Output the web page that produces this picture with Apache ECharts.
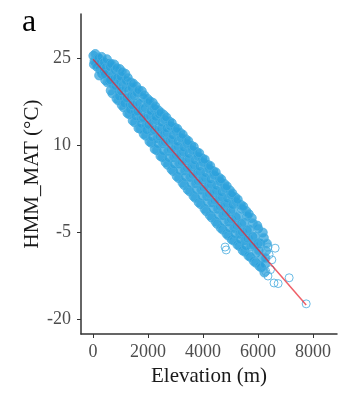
<!DOCTYPE html>
<html>
<head>
<meta charset="utf-8">
<script src="https://cdn.jsdelivr.net/npm/echarts@6/dist/echarts.min.js"></script>
<style>
  html, body { margin: 0; padding: 0; background: #fff; }
  #main { width: 355px; height: 395px; }
</style>
</head>
<body>
<div id="main"></div>
<script>
// elevation (m) and HMM_MAT (°C), column by column
var elevation = [
  10, 50, 80, 120, 160, 30, 140,
  200, 240, 290, 330, 370, 220, 310, 390,
  400, 440, 470, 520, 560, 430, 590, 500, 580,
  610, 640, 690, 730, 770, 620, 700, 790, 660,
  800, 850, 880, 930, 970, 820, 910, 990, 860, 950,
  1010, 1040, 1090, 1130, 1170, 1020, 1110, 1190, 1060, 1150,
  1200, 1250, 1280, 1330, 1370, 1220, 1310, 1390, 1260, 1350,
  1410, 1440, 1490, 1530, 1570, 1420, 1510, 1590, 1460, 1550,
  1600, 1650, 1680, 1730, 1770, 1620, 1710, 1790, 1660, 1750,
  1810, 1840, 1890, 1930, 1970, 1820, 1910, 1990, 1860, 1950,
  2000, 2050, 2080, 2130, 2170, 2020, 2110, 2190, 2060, 2150, 2100,
  2210, 2240, 2290, 2330, 2370, 2220, 2310, 2390, 2260, 2350, 2280,
  2400, 2450, 2480, 2530, 2570, 2420, 2510, 2590, 2460, 2550, 2500,
  2610, 2640, 2690, 2730, 2770, 2620, 2710, 2790, 2660, 2750, 2680,
  2800, 2850, 2880, 2930, 2970, 2820, 2910, 2990, 2860, 2950, 2900,
  3010, 3040, 3090, 3130, 3170, 3020, 3110, 3190, 3060, 3150, 3080,
  3200, 3250, 3280, 3330, 3370, 3220, 3310, 3390, 3260, 3350, 3300,
  3410, 3440, 3490, 3530, 3570, 3420, 3510, 3590, 3460, 3550, 3480,
  3600, 3650, 3680, 3730, 3770, 3620, 3710, 3790, 3660, 3750, 3700,
  3810, 3840, 3890, 3930, 3970, 3820, 3910, 3990, 3860, 3950, 3880,
  4000, 4050, 4080, 4130, 4170, 4020, 4110, 4190, 4060, 4150, 4090,
  4210, 4240, 4290, 4330, 4370, 4220, 4310, 4390, 4260, 4350, 4280,
  4400, 4450, 4480, 4530, 4570, 4420, 4510, 4590, 4460, 4550, 4490,
  4610, 4640, 4690, 4730, 4770, 4620, 4710, 4790, 4660, 4750, 4680,
  4800, 4850, 4880, 4930, 4970, 4820, 4910, 4990, 4860, 4950, 4890,
  5010, 5040, 5090, 5130, 5170, 5020, 5110, 5190, 5060, 5150, 5080,
  5200, 5250, 5280, 5330, 5370, 5220, 5310, 5390, 5260, 5350,
  5410, 5440, 5490, 5530, 5570, 5420, 5510, 5590, 5460, 5550,
  5600, 5650, 5680, 5730, 5770, 5620, 5710, 5790, 5660,
  5810, 5840, 5890, 5930, 5970, 5820, 5910, 5990,
  6000, 6050, 6080, 6130, 6170, 6020, 6110,
  6210, 6250, 6290, 6230, 6320, 6270
];
var hmmMat = [
  25.4, 24.5, 25.7, 24.0, 25.1, 23.9, 23.5,
  25.0, 23.1, 24.4, 22.3, 23.8, 22.0, 25.2, 22.7,
  24.3, 21.2, 23.4, 20.8, 22.5, 22.2, 24.0, 24.8, 21.0,
  23.5, 19.4, 22.0, 20.4, 23.9, 21.2, 18.9, 21.5, 24.0,
  22.9, 18.0, 21.6, 19.3, 23.1, 20.2, 17.7, 21.0, 23.3, 18.4,
  21.8, 16.9, 20.4, 18.1, 22.3, 19.3, 16.5, 19.9, 22.6, 17.2,
  21.1, 15.5, 19.4, 17.0, 20.8, 18.1, 15.3, 18.5, 21.6, 16.1,
  19.9, 14.2, 18.5, 15.8, 20.1, 16.9, 13.9, 17.3, 20.6, 15.0,
  19.0, 12.9, 17.1, 14.7, 19.3, 15.8, 12.8, 16.2, 19.5, 13.7,
  18.1, 11.9, 16.4, 13.4, 18.0, 14.7, 11.6, 15.1, 18.6, 12.6,
  17.2, 10.6, 15.0, 12.5, 17.3, 13.5, 10.4, 14.0, 17.6, 11.4, 15.9,
  16.3, 9.3, 14.3, 11.2, 16.0, 12.6, 9.1, 13.0, 16.7, 10.2, 14.9,
  15.3, 8.1, 12.8, 10.3, 15.2, 11.5, 7.9, 11.9, 15.6, 9.0, 13.9,
  14.3, 7.0, 12.1, 9.0, 14.1, 10.5, 6.6, 10.8, 14.8, 7.8, 12.9,
  13.3, 5.8, 10.9, 7.9, 13.0, 9.3, 5.5, 9.6, 13.8, 6.7, 11.7,
  12.3, 4.6, 9.7, 6.8, 12.1, 8.2, 4.3, 8.5, 12.8, 5.6, 10.6,
  11.2, 3.5, 8.8, 5.6, 11.0, 7.1, 3.1, 7.4, 11.8, 4.5, 9.6,
  10.2, 2.3, 7.6, 4.5, 9.9, 6.0, 2.0, 6.3, 10.7, 3.4, 8.5,
  9.1, 1.2, 6.5, 3.4, 8.8, 4.9, 0.9, 5.2, 9.7, 2.3, 7.4,
  8.0, 0.1, 5.4, 2.3, 7.7, 3.8, -0.2, 4.1, 8.6, 1.2, 6.3,
  7.0, -1.0, 4.3, 1.2, 6.6, 2.7, -1.4, 3.0, 7.5, 0.1, 5.2,
  5.9, -2.1, 3.2, 0.1, 5.5, 1.6, -2.5, 1.9, 6.4, -1.0, 4.1,
  4.8, -3.2, 2.1, -1.0, 4.4, 0.5, -3.6, 0.8, 5.3, -2.1, 3.0,
  3.7, -4.3, 1.0, -2.1, 3.3, -0.6, -4.6, -0.3, 4.1, -3.2, 1.9,
  2.5, -5.3, -0.1, -3.2, 2.2, -1.7, -5.6, -1.4, 2.9, -4.3, 0.8,
  1.4, -6.3, -1.2, -4.3, 1.0, -2.8, -6.5, -2.5, 1.7, -5.3, -0.3,
  0.2, -7.2, -2.3, -5.3, -0.3, -3.9, -7.4, -3.6, 0.6, -6.3,
  -1.0, -8.2, -3.4, -6.4, -1.4, -5.0, -8.4, -4.7, -0.6, -7.4,
  -2.3, -9.1, -4.6, -7.5, -2.6, -6.1, -9.3, -5.8, -1.9,
  -3.5, -10.0, -5.8, -8.6, -3.9, -7.2, -10.3, -6.9,
  -4.4, -10.9, -7.0, -9.5, -5.1, -8.2, -11.1,
  -6.0, -10.6, -8.3, -12.0, -7.0, -9.5
];
// sparse points away from the dense cloud
var sparseElev = [6360, 6620, 6360, 6580, 6730, 7130, 7750, 6450, 6500, 6400, 4840, 4800, 6280];
var sparseMat = [-7.6, -7.8, -12.6, -13.8, -13.9, -12.9, -17.4, -11.5, -9.8, -8.9, -8.1, -7.6, -11.8];
// fitted regression line end points
var fitElev = [0, 7750];
var fitTemp = [24.8, -17.6];
var xTicks = [0, 2000, 4000, 6000, 8000];
var yTicks = [-20, -5, 10, 25];

var points = elevation.map(function (e, i) { return [e, hmmMat[i]]; });
var sparse = sparseElev.map(function (e, i) { return [e, sparseMat[i]]; });
var fitLine = fitElev.map(function (e, i) { return [e, fitTemp[i]]; });

var chart = echarts.init(document.getElementById('main'));
var serif = '"Liberation Serif", "Times New Roman", serif';

var option = {
  animation: false,
  title: {
    text: 'a',
    left: 17,
    top: 2,
    textStyle: { fontFamily: serif, fontSize: 32, fontWeight: 'normal', color: '#000' }
  },
  grid: { left: 81, right: 18, top: 14, bottom: 61 },
  xAxis: {
    type: 'value',
    min: -440,
    max: 8870,
    name: 'Elevation (m)',
    nameLocation: 'middle',
    nameGap: 30,
    nameTextStyle: { fontFamily: serif, fontSize: 21, color: '#1a1a1a' },
    splitLine: { show: false },
    axisLine: { show: true, onZero: false, lineStyle: { color: '#333', width: 1.5 } },
    axisTick: { show: true, length: 4, customValues: xTicks, lineStyle: { color: '#333' } },
    axisLabel: {
      customValues: xTicks, fontFamily: serif, fontSize: 18, color: '#4d4d4d', margin: 9,
      formatter: function (v) { return String(v); }
    }
  },
  yAxis: {
    type: 'value',
    min: -22.6,
    max: 32.6,
    name: 'HMM_MAT (°C)',
    nameLocation: 'middle',
    nameGap: 38,
    nameMoveOverlap: false,
    nameTextStyle: { fontFamily: serif, fontSize: 21, color: '#1a1a1a' },
    splitLine: { show: false },
    axisLine: { show: true, onZero: false, lineStyle: { color: '#333', width: 1.5 } },
    axisTick: { show: true, length: 4, customValues: yTicks, lineStyle: { color: '#333' } },
    axisLabel: {
      customValues: yTicks, fontFamily: serif, fontSize: 18, color: '#4d4d4d', margin: 10,
      formatter: function (v) { return String(v); }
    }
  },
  series: [
    {
      type: 'scatter',
      data: points,
      symbol: 'circle',
      symbolSize: 9,
      itemStyle: { color: 'rgba(40,160,220,0.88)', borderColor: '#4aaee0', borderWidth: 1 }
    },
    {
      type: 'scatter',
      data: sparse,
      symbol: 'circle',
      symbolSize: 8,
      itemStyle: { color: 'rgba(255,255,255,0)', borderColor: '#45aadf', borderWidth: 1 }
    },
    {
      type: 'line',
      data: fitLine,
      symbol: 'none',
      lineStyle: { color: 'rgba(232,28,40,0.7)', width: 1.5 },
      z: 3
    }
  ]
};

chart.setOption(option);
</script>
</body>
</html>
